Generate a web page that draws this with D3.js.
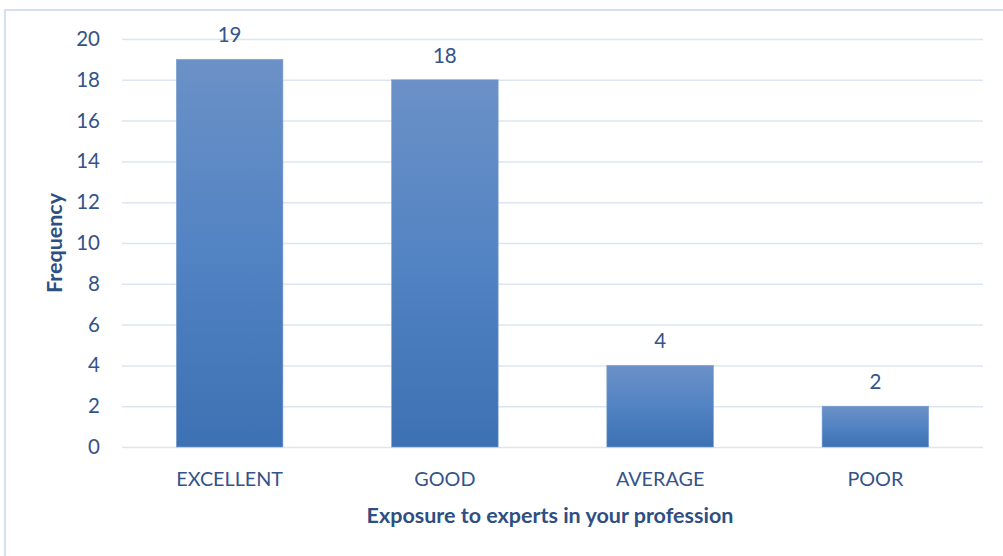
<!DOCTYPE html>
<html>
<head>
<meta charset="utf-8">
<script src="https://cdn.jsdelivr.net/npm/d3@7"></script>
<style>
  html, body { margin: 0; padding: 0; background: #ffffff; }
  svg { display: block; }
  text { font-family: Lato, "Liberation Sans", sans-serif; }
</style>
</head>
<body>
<svg id="chart" width="1003" height="556"></svg>
<script>
// Survey responses: exposure to experts in the respondent's profession
const categories = ["EXCELLENT", "GOOD", "AVERAGE", "POOR"];
const frequencies = [19, 18, 4, 2];
const yTicks = [0, 2, 4, 6, 8, 10, 12, 14, 16, 18, 20];
const xTitle = "Exposure to experts in your profession";
const yTitle = "Frequency";

const W = 1003, H = 556;
const plot = { left: 122, right: 983, top: 39, bottom: 447 };
const textColor = "#34538a";
const gridColor = "#dce6f3";

const svg = d3.select("#chart");

// Chart frame (top and left edges of the chart area)
svg.append("path")
  .attr("d", `M5,${H} V10 H${W}`)
  .attr("fill", "none")
  .attr("stroke", "#d5e1f0")
  .attr("stroke-width", 2);

const x = d3.scaleBand()
  .domain(categories)
  .range([plot.left, plot.right])
  .paddingInner(0.505)
  .paddingOuter(0.2525);

const y = d3.scaleLinear()
  .domain([0, 20])
  .range([plot.bottom, plot.top]);

// Vertical gradient shared by every bar
const defs = svg.append("defs");
const grad = defs.append("linearGradient")
  .attr("id", "barFill")
  .attr("x1", 0).attr("y1", 0).attr("x2", 0).attr("y2", 1);
grad.append("stop").attr("offset", "0%").attr("stop-color", "#6b91c7");
grad.append("stop").attr("offset", "50%").attr("stop-color", "#5283c3");
grad.append("stop").attr("offset", "100%").attr("stop-color", "#3c71b3");

// Horizontal gridlines
const yAxis = d3.axisLeft(y)
  .tickValues(yTicks)
  .tickSize(-(plot.right - plot.left))
  .tickPadding(22);

const gy = svg.append("g")
  .attr("transform", `translate(${plot.left},0)`)
  .call(yAxis);
gy.select(".domain").remove();
gy.selectAll(".tick line")
  .attr("stroke", gridColor)
  .attr("stroke-width", 1.5);
gy.selectAll(".tick text")
  .attr("fill", textColor)
  .attr("font-size", 20.5)
  .attr("font-family", "Lato, 'Liberation Sans', sans-serif");

// Bars
svg.append("g")
  .selectAll("rect")
  .data(categories.map((c, i) => ({ c, v: frequencies[i] })))
  .join("rect")
  .attr("x", d => x(d.c))
  .attr("y", d => y(d.v))
  .attr("width", x.bandwidth())
  .attr("height", d => y(0) - y(d.v))
  .attr("fill", "url(#barFill)")
  .attr("stroke", "#7b9ed0")
  .attr("stroke-width", 0.6);

// Value labels above bars
svg.append("g")
  .selectAll("text")
  .data(categories.map((c, i) => ({ c, v: frequencies[i] })))
  .join("text")
  .attr("x", d => x(d.c) + x.bandwidth() / 2)
  .attr("y", d => y(d.v) - 17)
  .attr("text-anchor", "middle")
  .attr("fill", textColor)
  .attr("font-size", 20.5)
  .text(d => d.v);

// Category axis labels
const xAxis = d3.axisBottom(x).tickSize(0).tickPadding(25);
const gx = svg.append("g")
  .attr("transform", `translate(0,${plot.bottom})`)
  .call(xAxis);
gx.select(".domain").remove();
gx.selectAll(".tick text")
  .attr("fill", textColor)
  .attr("font-size", 19.8)
  .attr("font-family", "Lato, 'Liberation Sans', sans-serif");

// Axis titles
svg.append("text")
  .attr("x", 550)
  .attr("y", 523)
  .attr("text-anchor", "middle")
  .attr("fill", "#2e4f82")
  .attr("font-size", 21.5)
  .attr("font-weight", "bold")
  .text(xTitle);

svg.append("text")
  .attr("transform", `translate(62,${(plot.top + plot.bottom) / 2}) rotate(-90)`)
  .attr("text-anchor", "middle")
  .attr("fill", "#2e4f82")
  .attr("font-size", 21.5)
  .attr("font-weight", "bold")
  .text(yTitle);
</script>
</body>
</html>
